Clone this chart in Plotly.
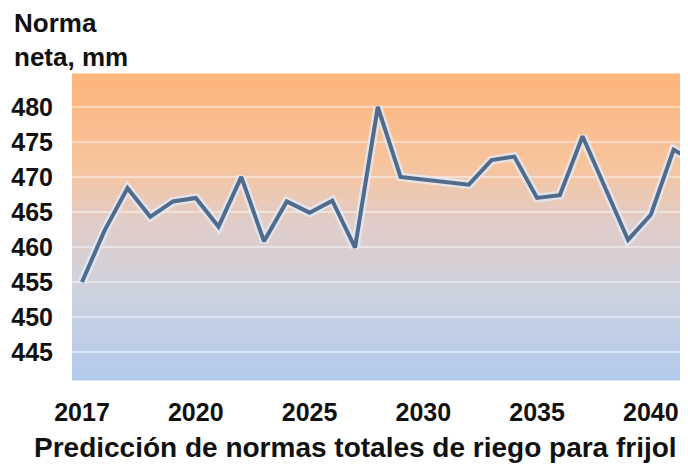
import plotly.graph_objects as go

# ---- data ----
years = [2015, 2016, 2017, 2018, 2019, 2020, 2021, 2022, 2023, 2024,
         2025, 2026, 2027, 2028, 2029, 2030, 2031, 2032, 2033, 2034,
         2035, 2036, 2037, 2038, 2039, 2040, 2041, 2042]
norma_neta = [455.0, 462.4, 468.4, 464.3, 466.5, 467.0, 462.9, 470.0, 460.8, 466.5,
              464.9, 466.6, 459.9, 480.0, 470.0, 469.6, 469.3, 468.9, 472.4, 472.9,
              467.0, 467.4, 475.8, 468.4, 461.0, 464.6, 473.9, 472.0]
x_tick_vals = [2015, 2020, 2025, 2030, 2035, 2040]
x_tick_text = ["2017", "2020", "2025", "2030", "2035", "2040"]
y_tick_vals = [445, 450, 455, 460, 465, 470, 475, 480]

y_title = "Norma<br>neta, mm"
x_title = "Predicción de normas totales de riego para frijol"

FONT = "Liberation Sans, Arial, sans-serif"

fig = go.Figure()

# halo behind the line
fig.add_trace(go.Scatter(
    x=years, y=norma_neta, mode="lines",
    line=dict(color="rgba(225,238,255,0.7)", width=9),
    hoverinfo="skip", showlegend=False))
fig.add_trace(go.Scatter(
    x=years, y=norma_neta, mode="lines",
    line=dict(color="#506b8b", width=4),
    showlegend=False))

# vertical gradient background (orange top -> light blue bottom)
stops = [(0.0, (253, 181, 122)), (0.3, (247, 196, 158)), (0.5, (224, 205, 202)),
         (0.72, (205, 210, 223)), (1.0, (180, 202, 236))]

def col(t):
    for (t0, c0), (t1, c1) in zip(stops[:-1], stops[1:]):
        if t0 <= t <= t1:
            f = (t - t0) / (t1 - t0)
            return "rgb(%d,%d,%d)" % tuple(round(a + (b - a) * f) for a, b in zip(c0, c1))
    return "rgb(%d,%d,%d)" % stops[-1][1]

N = 90
shapes = []
for i in range(N):
    t = (i + 0.5) / N
    shapes.append(dict(type="rect", xref="x domain", yref="y domain",
                       x0=0, x1=1, y0=1 - (i + 1) / N - 0.002, y1=1 - i / N + 0.002,
                       fillcolor=col(t), line=dict(width=0), layer="below"))
fig.update_layout(shapes=shapes)

# the page body adds an 8px offset, so the figure is sized/margined to compensate
fig.update_layout(
    width=680, height=458,
    margin=dict(l=64, r=1, t=66, b=86, autoexpand=False),
    paper_bgcolor="white",
    plot_bgcolor="rgba(0,0,0,0)",
    font=dict(family=FONT, color="#111111"),
    xaxis=dict(range=[2014.56, 2041.59], tickvals=x_tick_vals, ticktext=x_tick_text,
               showgrid=False, zeroline=False, showline=False, automargin=False,
               ticks="outside", ticklen=10, tickcolor="rgba(0,0,0,0)",
               tickfont=dict(size=25, family=FONT, color="#111111", weight="bold")),
    yaxis=dict(range=[441.0, 484.7], tickvals=y_tick_vals, automargin=False,
               showgrid=True, gridcolor="rgba(255,255,255,0.42)", gridwidth=2,
               zeroline=False, showline=False,
               ticks="outside", ticklen=13, tickcolor="rgba(0,0,0,0)",
               tickfont=dict(size=25, family=FONT, color="#111111", weight="bold")),
    annotations=[
        dict(text=y_title, xref="paper", yref="paper", x=-0.0975, y=1.222,
             xanchor="left", yanchor="top", align="left", showarrow=False,
             font=dict(size=26, family=FONT, color="#111111", weight="bold")),
        dict(text=x_title, xref="paper", yref="paper", x=0.461, y=-0.219,
             xanchor="center", yanchor="middle", showarrow=False,
             font=dict(size=28, family=FONT, color="#111111", weight="bold")),
    ],
)
fig.update_yaxes(layer="below traces")

fig.write_html("out.html")
